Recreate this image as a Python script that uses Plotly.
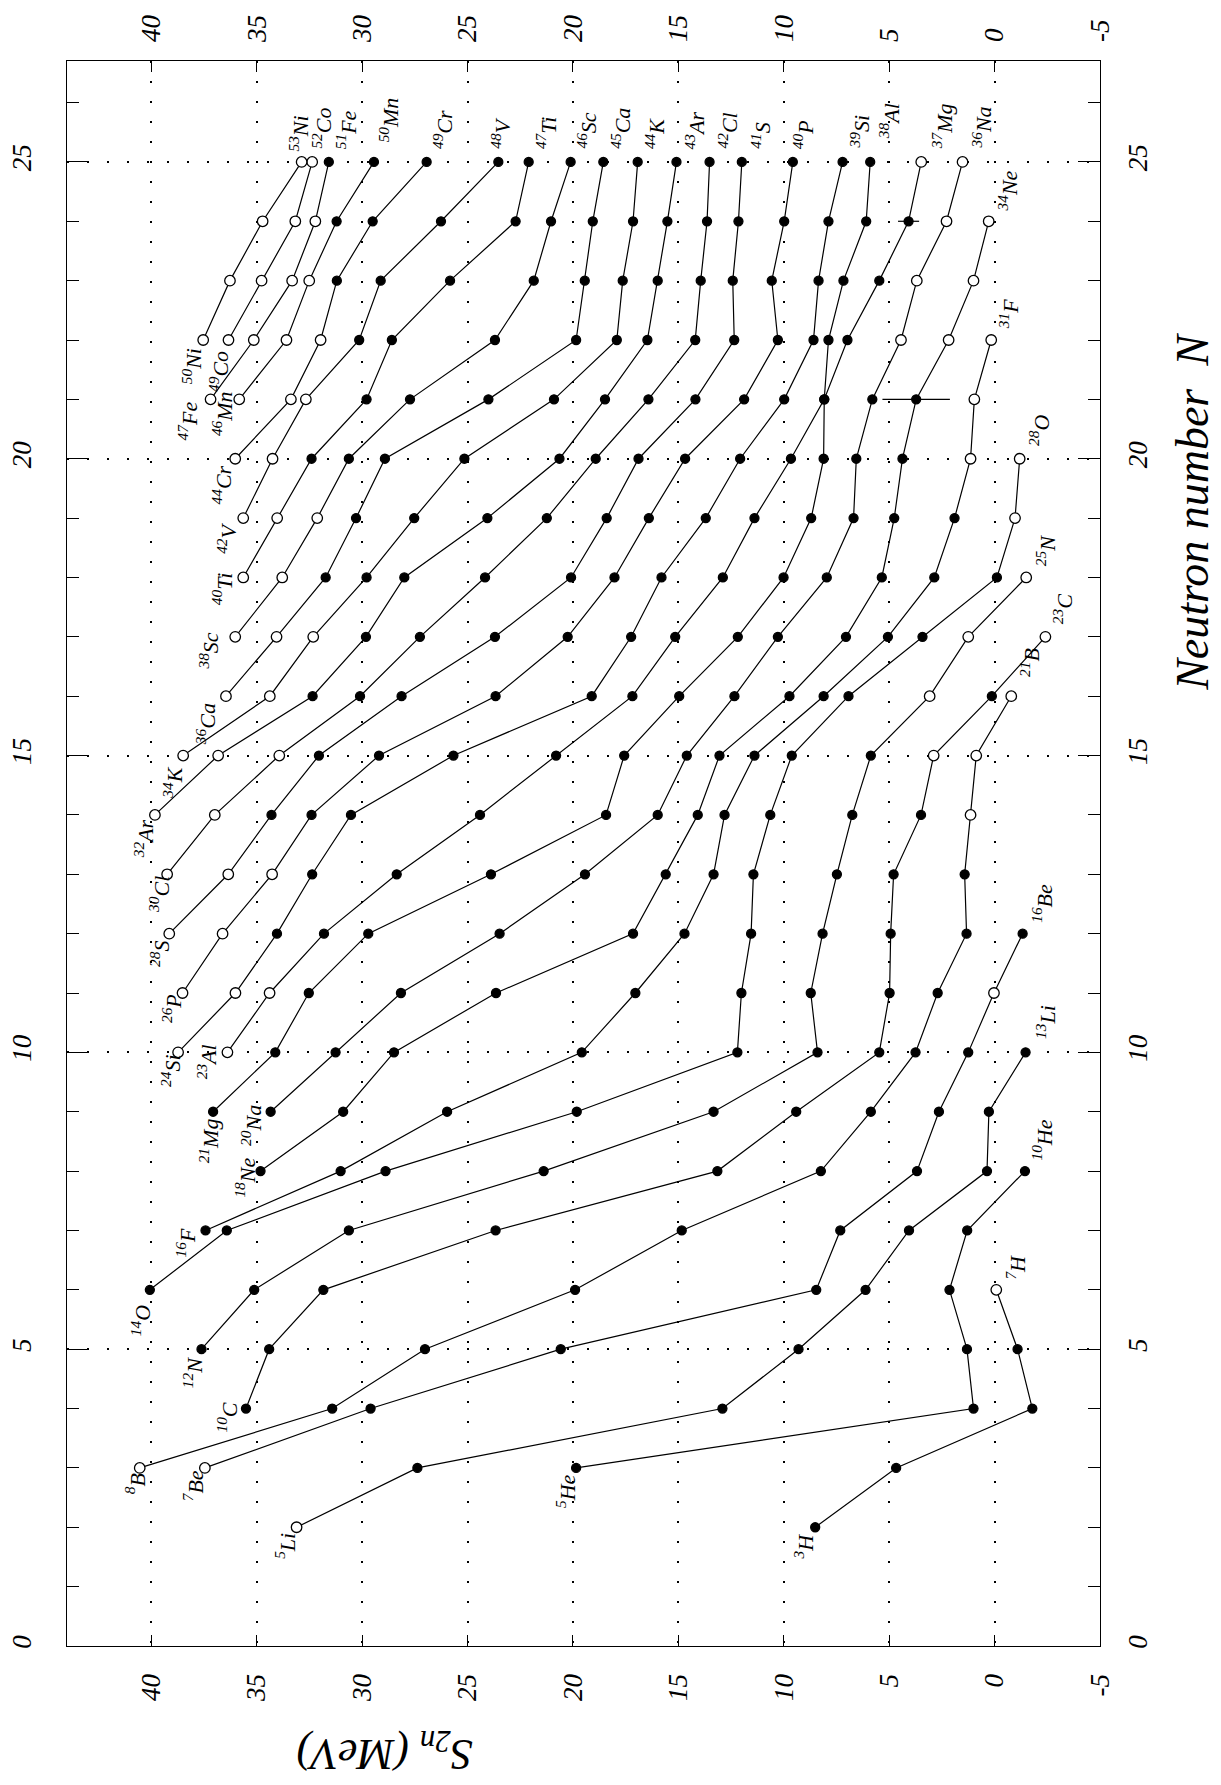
import plotly.graph_objects as go

# ------------------------------------------------------------------
# Data: two-neutron separation energies S2n (MeV) along isotopic chains.
# *_N0 = neutron number of the first point, *_S2N = values for N0, N0+1, ...
# *_OPEN = neutron numbers of points drawn as open circles (systematics)
# ------------------------------------------------------------------
H_N0 = 2
H_S2N = [8.51, 4.67, -1.79, -1.09, -0.08]
H_OPEN = [6]

He_N0 = 3
He_S2N = [19.85, 1.00, 1.31, 2.14, 1.30, -1.44]
He_OPEN = []

Li_N0 = 2
Li_S2N = [33.11, 27.38, 12.91, 9.30, 6.12, 4.06, 0.36, 0.27, -1.47]
Li_OPEN = [2]

Be_N0 = 3
Be_S2N = [37.46, 29.60, 20.58, 8.46, 7.32, 3.68, 2.64, 1.25, 0.03, -1.33]
Be_OPEN = [3, 11]

B_N0 = 3
B_S2N = [40.55, 31.42, 27.02, 19.90, 14.84, 8.24, 5.87, 3.75, 2.70, 1.33, 1.42, 1.14, 0.87, -0.79]
B_OPEN = [3, 14, 15, 16]

C_N0 = 4
C_S2N = [35.51, 34.41, 31.84, 23.67, 13.15, 9.41, 5.47, 4.98, 4.93, 4.79, 3.49, 2.89, 0.13, -2.41]
C_OPEN = [15, 17]

N_N0 = 5
N_S2N = [37.62, 35.12, 30.63, 21.39, 13.33, 8.40, 8.72, 8.16, 7.48, 6.75, 5.87, 3.08, 1.25, -1.50]
N_OPEN = [16, 17, 18]

O_N0 = 6
O_S2N = [40.07, 36.42, 28.89, 19.82, 12.20, 12.01, 11.55, 11.44, 10.64, 9.62, 6.93, 3.42, -0.11, -0.97, -1.19]
O_OPEN = [19, 20]

F_N0 = 7
F_S2N = [37.43, 31.02, 25.97, 19.58, 17.04, 14.71, 13.33, 12.81, 11.39, 8.11, 5.06, 2.86, 1.90, 1.14, 0.96, 0.16]
F_OPEN = [20, 21, 22]

Ne_N0 = 8
Ne_S2N = [34.82, 30.90, 28.49, 23.65, 17.15, 15.60, 14.08, 13.05, 9.73, 7.05, 5.35, 4.76, 4.37, 3.72, 2.18, 1.00, 0.28]
Ne_OPEN = [22, 23, 24]
Ne_ERR_N = [21]
Ne_ERR = [1.6]

Na_N0 = 9
Na_S2N = [34.34, 31.26, 28.16, 23.48, 19.43, 15.98, 14.60, 12.34, 10.28, 7.96, 6.69, 6.56, 5.80, 4.44, 3.69, 2.28, 1.52]
Na_OPEN = [22, 23, 24, 25]

Mg_N0 = 9
Mg_S2N = [37.07, 34.12, 32.53, 29.71, 23.89, 18.43, 17.57, 14.96, 12.18, 10.01, 8.70, 8.11, 8.08, 6.98, 5.47, 4.08, 3.48]
Mg_OPEN = [25]
Mg_ERR_N = [24]
Mg_ERR = [0.5]

Al_N0 = 10
Al_S2N = [36.39, 34.39, 31.81, 28.36, 24.41, 20.80, 17.18, 15.15, 12.89, 11.39, 9.66, 8.08, 7.88, 7.17, 6.09, 5.90]
Al_OPEN = [10, 11]

Si_N0 = 10
Si_S2N = [38.73, 36.01, 34.04, 32.37, 30.53, 25.67, 19.11, 17.24, 15.80, 13.70, 12.07, 9.98, 8.59, 8.35, 7.88, 7.21]
Si_OPEN = [10, 11]

P_N0 = 11
P_S2N = [38.52, 36.62, 34.27, 32.40, 29.20, 23.67, 20.25, 18.03, 16.40, 14.68, 11.88, 10.28, 10.57, 9.98, 9.57]
P_OPEN = [11, 12, 13]

S_N0 = 12
S_S2N = [39.15, 36.35, 34.30, 32.05, 28.13, 23.70, 20.09, 18.40, 16.89, 14.19, 12.35, 12.42, 12.15, 11.99]
S_OPEN = [12, 13]

Cl_N0 = 13
Cl_S2N = [39.25, 36.99, 33.93, 30.10, 27.26, 24.17, 21.24, 18.92, 16.42, 14.20, 13.94, 13.64, 13.52]
Cl_OPEN = [13, 14, 15]

Ar_N0 = 14
Ar_S2N = [39.83, 36.83, 32.35, 29.82, 28.00, 24.06, 20.64, 18.48, 16.47, 15.98, 15.52, 15.09]
Ar_OPEN = [14, 15]

K_N0 = 15
K_S2N = [38.49, 34.38, 32.32, 29.79, 27.53, 25.15, 20.90, 17.92, 17.64, 17.15, 16.93]
K_OPEN = [15, 16, 17]

Ca_N0 = 16
Ca_S2N = [36.46, 34.06, 31.73, 30.29, 28.92, 24.01, 19.85, 19.44, 19.06, 18.56]
Ca_OPEN = [16, 17]

Sc_N0 = 17
Sc_S2N = [36.02, 33.79, 32.13, 30.63, 27.73, 23.70, 21.86, 21.04, 20.11]
Sc_OPEN = [17, 18, 19]

Ti_N0 = 18
Ti_S2N = [35.64, 34.03, 32.40, 29.79, 28.59, 25.83, 22.72, 22.10]
Ti_OPEN = [18, 19]

V_N0 = 19
V_S2N = [35.64, 34.25, 32.67, 30.14, 29.12, 26.26, 23.54]
V_OPEN = [19, 20, 21]

Cr_N0 = 20
Cr_S2N = [36.02, 33.38, 31.97, 31.20, 29.50, 26.94]
Cr_OPEN = [20, 21, 22]

Mn_N0 = 21
Mn_S2N = [35.83, 33.59, 32.51, 31.21, 29.44]
Mn_OPEN = [21, 22, 23]

Fe_N0 = 21
Fe_S2N = [37.19, 35.14, 33.32, 32.22, 31.58]
Fe_OPEN = [21, 22, 23, 24]

Co_N0 = 22
Co_S2N = [36.34, 34.77, 33.17, 32.37]
Co_OPEN = [22, 23, 24, 25]

Ni_N0 = 22
Ni_S2N = [37.54, 36.27, 34.72, 32.87]
Ni_OPEN = [22, 23, 24, 25]

# Axis tick values / labels
S2N_TICKS = [40, 35, 30, 25, 20, 15, 10, 5, 0, -5]
N_TICKS = [0, 5, 10, 15, 20, 25]

CHAINS = [
    ("H", 1, H_N0, H_S2N, H_OPEN, [], []),
    ("He", 2, He_N0, He_S2N, He_OPEN, [], []),
    ("Li", 3, Li_N0, Li_S2N, Li_OPEN, [], []),
    ("Be", 4, Be_N0, Be_S2N, Be_OPEN, [], []),
    ("B", 5, B_N0, B_S2N, B_OPEN, [], []),
    ("C", 6, C_N0, C_S2N, C_OPEN, [], []),
    ("N", 7, N_N0, N_S2N, N_OPEN, [], []),
    ("O", 8, O_N0, O_S2N, O_OPEN, [], []),
    ("F", 9, F_N0, F_S2N, F_OPEN, [], []),
    ("Ne", 10, Ne_N0, Ne_S2N, Ne_OPEN, Ne_ERR_N, Ne_ERR),
    ("Na", 11, Na_N0, Na_S2N, Na_OPEN, [], []),
    ("Mg", 12, Mg_N0, Mg_S2N, Mg_OPEN, Mg_ERR_N, Mg_ERR),
    ("Al", 13, Al_N0, Al_S2N, Al_OPEN, [], []),
    ("Si", 14, Si_N0, Si_S2N, Si_OPEN, [], []),
    ("P", 15, P_N0, P_S2N, P_OPEN, [], []),
    ("S", 16, S_N0, S_S2N, S_OPEN, [], []),
    ("Cl", 17, Cl_N0, Cl_S2N, Cl_OPEN, [], []),
    ("Ar", 18, Ar_N0, Ar_S2N, Ar_OPEN, [], []),
    ("K", 19, K_N0, K_S2N, K_OPEN, [], []),
    ("Ca", 20, Ca_N0, Ca_S2N, Ca_OPEN, [], []),
    ("Sc", 21, Sc_N0, Sc_S2N, Sc_OPEN, [], []),
    ("Ti", 22, Ti_N0, Ti_S2N, Ti_OPEN, [], []),
    ("V", 23, V_N0, V_S2N, V_OPEN, [], []),
    ("Cr", 24, Cr_N0, Cr_S2N, Cr_OPEN, [], []),
    ("Mn", 25, Mn_N0, Mn_S2N, Mn_OPEN, [], []),
    ("Fe", 26, Fe_N0, Fe_S2N, Fe_OPEN, [], []),
    ("Co", 27, Co_N0, Co_S2N, Co_OPEN, [], []),
    ("Ni", 28, Ni_N0, Ni_S2N, Ni_OPEN, [], []),
]

# ------------------------------------------------------------------
# Styling / layout (label placement in screen pixels relative to the point)
# start label: (dx of right edge, distance of top edge below the point)
# end label:   (dx of right edge, distance of bottom edge above the point)
# ------------------------------------------------------------------
START_OFF = {
    "H": (0, 5), "He": (1, 5), "Li": (0, 5), "Be": (0, 1), "B": (7, 4),
    "C": (-8, -7), "N": (2, 7), "O": (2, 14), "F": (-9, -3), "Ne": (-4, -14),
    "Na": (-8, -8), "Mg": (7, 6), "Al": (-10, -9), "Si": (4, 1), "P": (0, 0),
    "S": (1, 6), "Cl": (3, 1), "Ar": (0, 3), "K": (0, 10), "Ca": (-9, 6),
    "Sc": (-15, -5), "Ti": (-10, -6), "V": (-6, 4), "Cr": (-2, 6), "Mn": (-6, -9),
    "Fe": (-12, 1), "Co": (1, 10), "Ni": (0, 7),
}
END_OFF = {
    "Ni": (8, 9), "Co": (21, 12), "Fe": (29, 12), "Mn": (26, 19), "Cr": (28, 12),
    "V": (14, 12), "Ti": (29, 12), "Sc": (27, 12), "Ca": (29, 12), "K": (29, 12),
    "Ar": (29, 12), "Cl": (29, 12), "S": (30, 12), "P": (22, 12), "Si": (28, 12),
    "Al": (30, 22), "Mg": (32, 12), "Na": (30, 12), "Ne": (30, 9), "F": (29, 10),
    "O": (31, 12), "N": (31, 10), "C": (28, 12), "B": (29, 18), "Be": (31, 10),
    "Li": (32, 12), "He": (28, 10), "H": (31, 9),
}

FONT = "Liberation Serif"
LABEL_FONT = dict(family=FONT, size=22, color="black", style="italic")
TICK_FONT = dict(family=FONT, size=27, color="black", style="italic")
TITLE_FONT = dict(family=FONT, size=46, color="black", style="italic")
PAD = 4

X_RANGE = [44, -5]
Y_RANGE = [0, 26.7]

fig = go.Figure()
annotations = []

for sym, Z, n0, s2n, open_n, err_n, err_v in CHAINS:
    ns = list(range(n0, n0 + len(s2n)))
    is_open = [n in open_n for n in ns]
    colors = ["white" if o else "black" for o in is_open]
    sizes = [10.5 if o else 9 for o in is_open]
    trace = dict(
        x=s2n, y=ns, mode="lines+markers",
        line=dict(color="black", width=1.2),
        marker=dict(color=colors, size=sizes, symbol="circle", opacity=1,
                    line=dict(color="black", width=1.3)),
        showlegend=False, hoverinfo="skip", cliponaxis=False,
    )
    if err_n:
        arr = [err_v[err_n.index(n)] if n in err_n else 0 for n in ns]
        trace["error_x"] = dict(type="data", array=arr, visible=True,
                                color="black", thickness=1.2, width=0)
    fig.add_trace(go.Scatter(**trace))

    # start label
    dx, dd = START_OFF[sym]
    annotations.append(dict(
        x=s2n[0], y=n0, xref="x", yref="y",
        text=f"<sup>{Z + n0}</sup>{sym}", showarrow=False, textangle=-90,
        xanchor="right", yanchor="top", xshift=dx + PAD, yshift=-dd,
        font=LABEL_FONT, borderpad=0,
    ))
    # end label
    n_end = ns[-1]
    dx, du = END_OFF[sym]
    annotations.append(dict(
        x=s2n[-1], y=n_end, xref="x", yref="y",
        text=f"<sup>{Z + n_end}</sup>{sym}", showarrow=False, textangle=-90,
        xanchor="right", yanchor="bottom", xshift=dx + PAD, yshift=du,
        font=LABEL_FONT, borderpad=0,
    ))

# dummy trace to activate the mirrored label axes
fig.add_trace(go.Scatter(x=[None], y=[None], xaxis="x2", yaxis="y2",
                         showlegend=False, hoverinfo="skip"))

annotations.append(dict(
    text="Neutron number  N", xref="paper", yref="paper", x=1.1145, y=0.7154,
    showarrow=False, textangle=-90, xanchor="right", yanchor="middle",
    font=TITLE_FONT, borderpad=0,
))
annotations.append(dict(
    text="S<sub>2n</sub> (MeV)", xref="paper", yref="paper", x=0.3077, y=-0.0665,
    showarrow=False, textangle=180, xanchor="center", yanchor="middle",
    font=dict(TITLE_FONT, size=44),
))

s2n_text = [str(v) for v in S2N_TICKS]
n_text = [str(v) for v in N_TICKS]
grid_dash = "2px,18px"

fig.update_layout(
    width=1221, height=1785,
    margin=dict(l=67, r=121, t=61, b=139, pad=0, autoexpand=False),
    plot_bgcolor="white", paper_bgcolor="white",
    font=dict(family=FONT, color="black"),
    showlegend=False,
    annotations=annotations,
    xaxis=dict(
        range=X_RANGE, tickmode="array", tickvals=S2N_TICKS, ticktext=s2n_text,
        ticks="inside", ticklen=11, tickwidth=1.3, tickcolor="black",
        showline=True, linecolor="black", linewidth=1.3, mirror="ticks",
        showgrid=True, gridcolor="black", gridwidth=1.5, griddash=grid_dash,
        zeroline=False, tickangle=-90, tickfont=TICK_FONT, automargin=False,
        ticklabelstandoff=16, side="bottom", anchor="y",
    ),
    xaxis2=dict(
        range=X_RANGE, tickmode="array", tickvals=S2N_TICKS, ticktext=s2n_text,
        overlaying="x", side="top", anchor="y", ticks="", automargin=False,
        showline=False, showgrid=False, zeroline=False,
        tickangle=-90, tickfont=TICK_FONT, ticklabelstandoff=18,
    ),
    yaxis=dict(
        range=Y_RANGE, tickmode="array", tickvals=N_TICKS, ticktext=n_text,
        ticks="inside", ticklen=22, tickwidth=1.3, tickcolor="black",
        minor=dict(dtick=1, tick0=0, ticks="inside", ticklen=12,
                   tickwidth=1.3, tickcolor="black", showgrid=False),
        showline=True, linecolor="black", linewidth=1.3, mirror="ticks",
        showgrid=True, gridcolor="black", gridwidth=1.5, griddash=grid_dash,
        zeroline=False, tickangle=-90, tickfont=TICK_FONT, automargin=False,
        ticklabelstandoff=24, side="left", anchor="x",
    ),
    yaxis2=dict(
        range=Y_RANGE, tickmode="array", tickvals=N_TICKS, ticktext=n_text,
        overlaying="y", side="right", anchor="x", ticks="", automargin=False,
        showline=False, showgrid=False, zeroline=False,
        tickangle=-90, tickfont=TICK_FONT, ticklabelstandoff=19,
    ),
)

fig.write_html("out.html", config={"displayModeBar": False},
               post_script="document.body.style.margin='0';")
